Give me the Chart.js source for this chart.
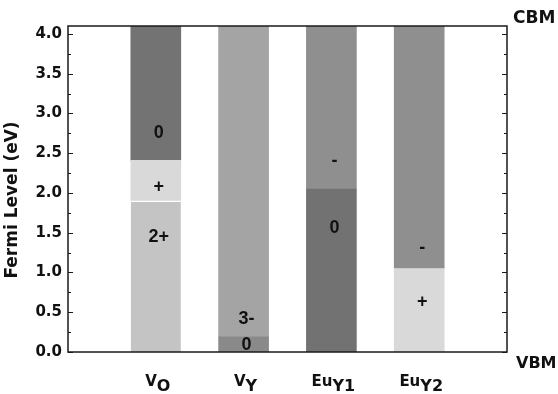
<!DOCTYPE html>
<html>
<head>
<meta charset="utf-8">
<script src="https://cdn.jsdelivr.net/npm/chart.js@4.4.0/dist/chart.umd.min.js"></script>
<style>
  html, body { margin: 0; padding: 0; background: #fff; }
  canvas { display: block; }
</style>
</head>
<body>
<canvas id="grafico" width="558" height="394"></canvas>
<script>
// defect names (main letter + subscript)
const defectos = ['V', 'V', 'Eu', 'Eu'];
const subindices = ['O', 'Y', 'Y1', 'Y2'];
const gapBanda = 4.1; // CBM, eV
// transition levels (eV), bottom to top
const niveles = [[1.9, 2.41], [0.19], [2.05], [1.05]];
const estados = [['2+', '+', '0'], ['0', '3-'], ['0', '-'], ['+', '-']];
const posEstados = [[1.45, 2.08, 2.76], [0.09, 0.415], [1.56, 2.4], [0.63, 1.31]];
const colores = [
    ['#c4c4c4', '#d9d9d9', '#737373'],
    ['#8a8a8a', '#a4a4a4'],
    ['#727272', '#8f8f8f'],
    ['#d9d9d9', '#8f8f8f']
];

const etiquetas = ['', ...defectos.map((d, i) => d + subindices[i]), ''];

function armarDatasets() {
    const sets = [];
    for (let k = 0; k < 3; k++) {
        const data = etiquetas.map(() => null);
        const bg = etiquetas.map(() => 'transparent');
        niveles.forEach((lv, i) => {
            const cortes = [0, ...lv, gapBanda];
            if (k < cortes.length - 1) {
                data[i + 1] = [cortes[k], cortes[k + 1]];
                bg[i + 1] = colores[i][k];
            }
        });
        sets.push({
            data: data,
            backgroundColor: bg,
            borderColor: '#fff',
            borderWidth: c => (c.datasetIndex === 0 && c.dataIndex === 1) ? { top: 1.5, bottom: 0, left: 0, right: 0 } : 0,
            barThickness: 50,
            grouped: false
        });
    }
    return sets;
}

const extras = {
    id: 'extras',
    afterDatasetsDraw(chart) {
        const { ctx, scales: { x, y } } = chart;
        ctx.save();
        ctx.fillStyle = '#111';
        ctx.textAlign = 'center';
        ctx.textBaseline = 'middle';
        ctx.font = 'bold 18px "Liberation Sans", Arial, sans-serif';
        estados.forEach((est, i) => {
            est.forEach((t, k) => {
                ctx.fillText(t, x.getPixelForValue(i + 1) + 3, y.getPixelForValue(posEstados[i][k]));
            });
        });
        ctx.restore();
    },
    afterDraw(chart) {
        const { ctx, chartArea: a, scales: { x, y } } = chart;
        ctx.save();
        // frame
        ctx.strokeStyle = '#1a1a1a';
        ctx.lineWidth = 1.5;
        ctx.strokeRect(a.left, a.top, a.right - a.left, a.bottom - a.top);
        // inward ticks left and right
        ctx.lineWidth = 1.2;
        for (let v = 0; v <= 4.001; v += 0.25) {
            const py = Math.round(y.getPixelForValue(v)) + 0.5;
            const largo = (Math.abs(v * 2 - Math.round(v * 2)) < 1e-6) ? 5 : 3;
            ctx.beginPath();
            ctx.moveTo(a.left, py); ctx.lineTo(a.left + largo, py);
            ctx.moveTo(a.right, py); ctx.lineTo(a.right - largo, py);
            ctx.stroke();
        }
        // x labels with subscripts
        ctx.fillStyle = '#111';
        ctx.textBaseline = 'alphabetic';
        ctx.textAlign = 'left';
        const fMain = 'bold 15px "DejaVu Sans", sans-serif';
        const fSub = 'bold 16px "DejaVu Sans", sans-serif';
        defectos.forEach((d, i) => {
            ctx.font = fMain; const w1 = ctx.measureText(d).width;
            ctx.font = fSub; const w2 = ctx.measureText(subindices[i]).width;
            const x0 = x.getPixelForValue(i + 1) + 2 - (w1 + w2) / 2;
            ctx.font = fMain; ctx.fillText(d, x0, 386);
            ctx.font = fSub; ctx.fillText(subindices[i], x0 + w1, 391);
        });
        // CBM / VBM
        ctx.font = 'bold 17px "DejaVu Sans", sans-serif';
        ctx.fillText('CBM', 513, 23);
        ctx.font = 'bold 16px "DejaVu Sans", sans-serif';
        ctx.fillText('VBM', 516, 368);
        // y title
        ctx.translate(13, 200);
        ctx.rotate(-Math.PI / 2);
        ctx.textAlign = 'center';
        ctx.textBaseline = 'middle';
        ctx.font = 'bold 17px "DejaVu Sans", sans-serif';
        ctx.fillText('Fermi Level (eV)', 0, 0);
        ctx.restore();
    }
};

new Chart(document.getElementById('grafico'), {
    type: 'bar',
    data: { labels: etiquetas, datasets: armarDatasets() },
    options: {
        responsive: false,
        animation: false,
        layout: { padding: { top: 26, right: 51, bottom: 42, left: 0 } },
        plugins: { legend: { display: false }, tooltip: { enabled: false } },
        scales: {
            x: {
                offset: false,
                grid: { display: false },
                border: { display: false },
                ticks: { display: false },
                afterFit: s => { s.height = 0; }
            },
            y: {
                min: 0,
                max: gapBanda,
                grid: { display: false, drawTicks: false },
                border: { display: false },
                ticks: {
                    stepSize: 0.5,
                    includeBounds: false,
                    padding: 6,
                    color: '#111',
                    font: { family: 'DejaVu Sans', weight: 'bold', size: 15 },
                    callback: v => v.toFixed(1)
                },
                afterFit: s => { s.width = 68; }
            }
        }
    },
    plugins: [extras]
});
</script>
</body>
</html>
